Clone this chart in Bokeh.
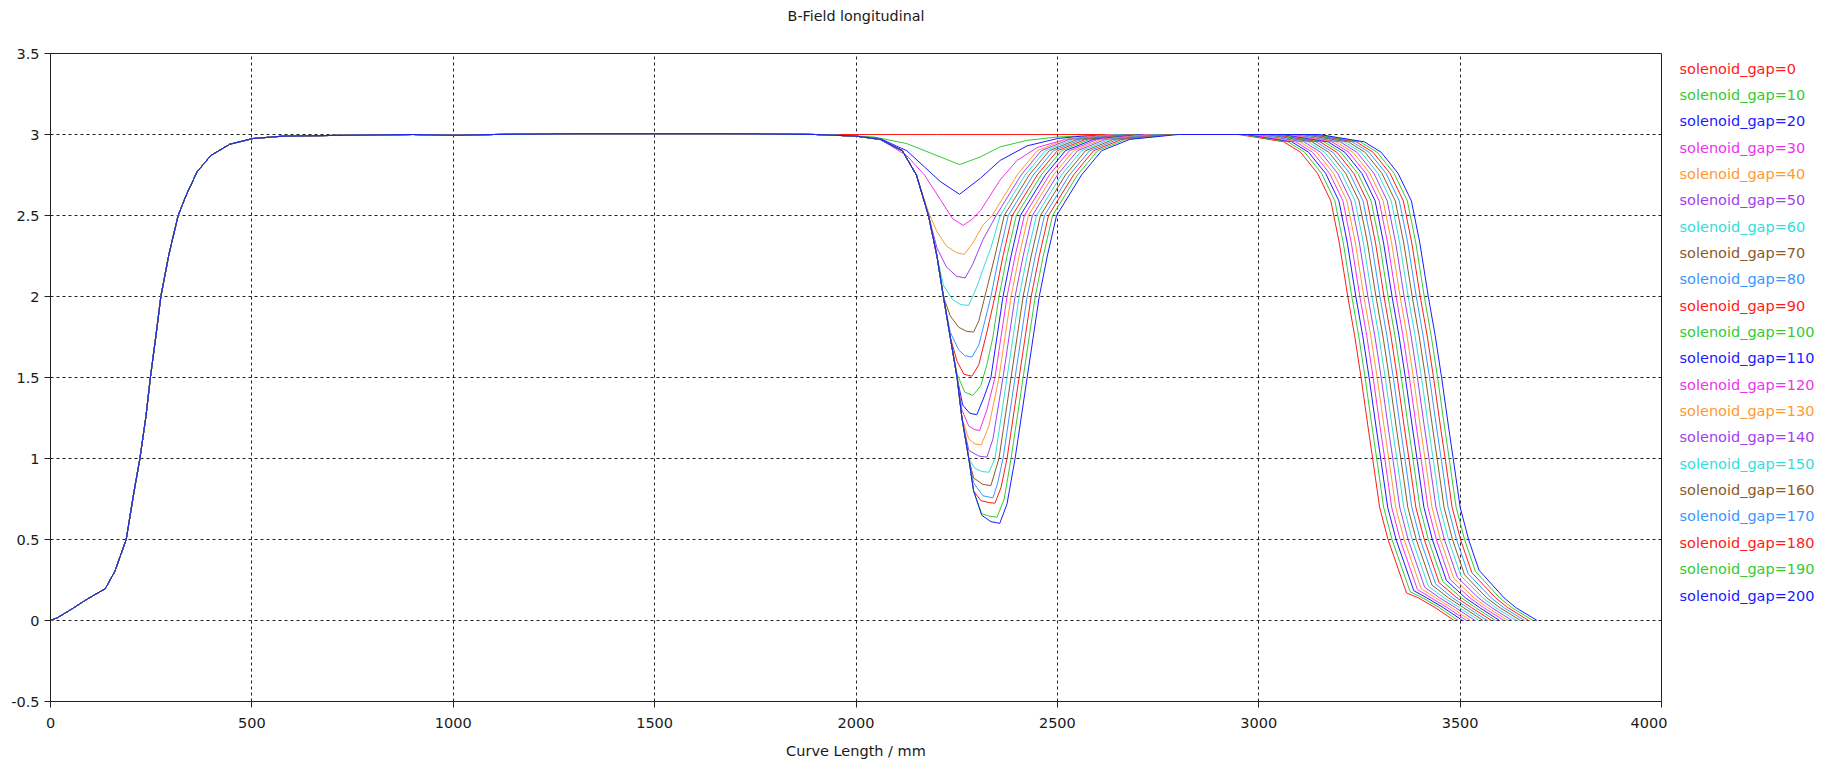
from bokeh.plotting import figure
from bokeh.layouts import row, column
from bokeh.models import SingleIntervalTicker, CustomJSTickFormatter, Range1d, ColumnDataSource
from bokeh.core.properties import value
from bokeh.embed import file_html
from bokeh.resources import INLINE

# ---------------- data ----------------
gaps = [0, 10, 20, 30, 40, 50, 60, 70, 80, 90, 100, 110, 120, 130, 140, 150, 160, 170, 180, 190, 200]

palette = ["#ff1a1a", "#33cc33", "#1a1aff", "#ee33ee", "#ff9933",
           "#a040f0", "#33dddd", "#8b5a2b", "#3a96ff"]

x_min, x_max = 0, 4000
y_min, y_max = -0.5, 3.5
x_ticks_step = 500
y_ticks_step = 0.5

# shared field rise of the first solenoid (all curves overlap here)
rise_x = [0, 17, 46, 93, 136, 160, 188, 207, 222, 237, 248, 264, 274, 294, 317, 336,
          364, 398, 445, 502, 578, 730, 900, 1000, 1100, 1300, 1500, 1700, 1900]
rise_y = [0, 0.017, 0.06, 0.135, 0.196, 0.305, 0.50, 0.79, 1.0, 1.26, 1.5, 1.8, 2.0,
          2.26, 2.5, 2.62, 2.77, 2.87, 2.94, 2.975, 2.99, 2.995, 3.0, 2.995, 3.0,
          3.005, 3.005, 3.005, 3.0]

# remaining part of each curve (gap dip + end fall), (curve length, B)
tail_g000 = [(2000, 3.0), (2200, 3.0), (2400, 3.0), (2600, 3.0),
             (2950, 3.0), (3062, 2.955), (3104, 2.89), (3146, 2.76), (3179, 2.59), (3200, 2.33),
             (3221, 2.0), (3238, 1.76), (3254, 1.5), (3271, 1.2), (3284, 0.98), (3300, 0.70),
             (3321, 0.5), (3367, 0.17), (3396, 0.14), (3438, 0.08), (3485, 0.0)]
tail_g010 = [(2000, 2.99), (2044, 2.985), (2126, 2.944), (2209, 2.862), (2257, 2.814), (2309, 2.862),
             (2358, 2.924), (2425, 2.964), (2500, 2.985), (2560, 2.99), (2700, 3.0),
             (2960, 3.0), (3072, 2.955), (3114, 2.89), (3156, 2.76), (3189, 2.59), (3210, 2.33),
             (3231, 2.0), (3248, 1.76), (3264, 1.5), (3281, 1.2), (3294, 0.98), (3310, 0.70),
             (3331, 0.5), (3376, 0.177), (3407, 0.14), (3448, 0.08), (3495, 0.0)]
tail_g020 = [(2000, 2.99), (2060, 2.975), (2126, 2.90), (2170, 2.80), (2209, 2.71), (2257, 2.631),
             (2309, 2.73), (2358, 2.84), (2425, 2.93), (2500, 2.975), (2560, 2.99), (2700, 3.0),
             (2970, 3.0), (3082, 2.955), (3124, 2.89), (3166, 2.76), (3199, 2.59), (3220, 2.33),
             (3241, 2.0), (3258, 1.76), (3274, 1.5), (3291, 1.2), (3304, 0.98), (3320, 0.70),
             (3341, 0.5), (3385, 0.184), (3417, 0.14), (3458, 0.08), (3506, 0.0)]
tail_g030 = [(2000, 2.99), (2060, 2.97), (2126, 2.87), (2170, 2.75), (2209, 2.6), (2240, 2.48),
             (2266, 2.439), (2290, 2.48), (2309, 2.53), (2358, 2.72), (2400, 2.84), (2450, 2.92),
             (2520, 2.97), (2630, 3.0),
             (2980, 3.0), (3092, 2.955), (3134, 2.89), (3176, 2.76), (3209, 2.59), (3230, 2.33),
             (3251, 2.0), (3268, 1.76), (3284, 1.5), (3301, 1.2), (3314, 0.98), (3330, 0.70),
             (3351, 0.5), (3394, 0.191), (3428, 0.14), (3468, 0.08), (3516, 0.0)]
tail_g040 = [(2000, 2.99), (2060, 2.97), (2115, 2.9), (2150, 2.75), (2180, 2.52), (2201, 2.4),
             (2225, 2.31), (2250, 2.27), (2269, 2.26), (2290, 2.33), (2315, 2.44), (2338, 2.5),
             (2400, 2.75), (2450, 2.9), (2520, 2.97), (2640, 3.0),
             (2990, 3.0), (3102, 2.955), (3144, 2.89), (3186, 2.76), (3219, 2.59), (3240, 2.33),
             (3261, 2.0), (3278, 1.76), (3294, 1.5), (3311, 1.2), (3324, 0.98), (3340, 0.70),
             (3361, 0.5), (3403, 0.198), (3439, 0.14), (3478, 0.08), (3526, 0.0)]
tail_g050 = [(2000, 2.99), (2060, 2.97), (2115, 2.9), (2150, 2.75), (2180, 2.5), (2201, 2.3),
             (2225, 2.18), (2250, 2.125), (2271, 2.114), (2290, 2.2), (2315, 2.35), (2348, 2.5),
             (2410, 2.75), (2460, 2.9), (2530, 2.97), (2650, 3.0),
             (3000, 3.0), (3112, 2.955), (3154, 2.89), (3196, 2.76), (3229, 2.59), (3250, 2.33),
             (3271, 2.0), (3288, 1.76), (3304, 1.5), (3321, 1.2), (3334, 0.98), (3350, 0.70),
             (3371, 0.5), (3412, 0.205), (3449, 0.14), (3488, 0.08), (3537, 0.0)]
tail_g060 = [(2000, 2.99), (2060, 2.97), (2115, 2.9), (2150, 2.75), (2180, 2.5), (2201, 2.25),
             (2217, 2.07), (2240, 1.98), (2260, 1.95), (2280, 1.945), (2300, 2.06), (2320, 2.2),
             (2335, 2.3), (2358, 2.5), (2420, 2.75), (2470, 2.9), (2540, 2.97), (2660, 3.0),
             (3010, 3.0), (3122, 2.955), (3164, 2.89), (3206, 2.76), (3239, 2.59), (3260, 2.33),
             (3281, 2.0), (3298, 1.76), (3314, 1.5), (3331, 1.2), (3344, 0.98), (3360, 0.70),
             (3381, 0.5), (3421, 0.212), (3460, 0.14), (3498, 0.08), (3547, 0.0)]
tail_g070 = [(2000, 2.99), (2060, 2.97), (2115, 2.9), (2150, 2.75), (2180, 2.5), (2201, 2.25),
             (2217, 2.0), (2234, 1.88), (2255, 1.81), (2275, 1.785), (2292, 1.78), (2305, 1.85),
             (2325, 2.05), (2345, 2.25), (2368, 2.5), (2430, 2.75), (2480, 2.9), (2550, 2.97),
             (2670, 3.0),
             (3020, 3.0), (3132, 2.955), (3174, 2.89), (3216, 2.76), (3249, 2.59), (3270, 2.33),
             (3291, 2.0), (3308, 1.76), (3324, 1.5), (3341, 1.2), (3354, 0.98), (3370, 0.70),
             (3391, 0.5), (3430, 0.219), (3471, 0.14), (3508, 0.08), (3557, 0.0)]
tail_g080 = [(2000, 2.99), (2060, 2.97), (2115, 2.9), (2150, 2.75), (2180, 2.5), (2201, 2.25),
             (2217, 2.0), (2234, 1.78), (2255, 1.67), (2270, 1.635), (2288, 1.626), (2305, 1.7),
             (2320, 1.85), (2335, 2.0), (2355, 2.25), (2378, 2.5), (2440, 2.75), (2490, 2.9),
             (2560, 2.97), (2680, 3.0),
             (3030, 3.0), (3142, 2.955), (3184, 2.89), (3226, 2.76), (3259, 2.59), (3280, 2.33),
             (3301, 2.0), (3318, 1.76), (3334, 1.5), (3351, 1.2), (3364, 0.98), (3380, 0.70),
             (3401, 0.5), (3439, 0.226), (3481, 0.14), (3518, 0.08), (3567, 0.0)]
tail_g090 = [(2000, 2.99), (2060, 2.97), (2115, 2.9), (2150, 2.75), (2180, 2.5), (2201, 2.25),
             (2217, 2.0), (2234, 1.75), (2251, 1.6), (2268, 1.52), (2288, 1.508), (2305, 1.58),
             (2325, 1.78), (2345, 2.0), (2365, 2.25), (2388, 2.5), (2450, 2.75), (2500, 2.9),
             (2570, 2.97), (2690, 3.0),
             (3040, 3.0), (3152, 2.955), (3194, 2.89), (3236, 2.76), (3269, 2.59), (3290, 2.33),
             (3311, 2.0), (3328, 1.76), (3344, 1.5), (3361, 1.2), (3374, 0.98), (3390, 0.70),
             (3411, 0.5), (3448, 0.233), (3492, 0.14), (3528, 0.08), (3578, 0.0)]
tail_g100 = [(2000, 2.99), (2060, 2.97), (2115, 2.9), (2150, 2.75), (2180, 2.5), (2201, 2.25),
             (2217, 2.0), (2234, 1.75), (2251, 1.52), (2270, 1.41), (2290, 1.389), (2310, 1.45),
             (2325, 1.58), (2340, 1.75), (2355, 2.0), (2375, 2.25), (2398, 2.5), (2460, 2.75),
             (2510, 2.9), (2580, 2.97), (2700, 3.0),
             (3050, 3.0), (3162, 2.955), (3204, 2.89), (3246, 2.76), (3279, 2.59), (3300, 2.33),
             (3321, 2.0), (3338, 1.76), (3354, 1.5), (3371, 1.2), (3384, 0.98), (3400, 0.70),
             (3421, 0.5), (3457, 0.24), (3503, 0.14), (3538, 0.08), (3588, 0.0)]
tail_g110 = [(2000, 2.99), (2060, 2.97), (2115, 2.9), (2150, 2.75), (2180, 2.5), (2201, 2.25),
             (2217, 2.0), (2234, 1.75), (2251, 1.5), (2265, 1.33), (2282, 1.28), (2300, 1.27),
             (2318, 1.38), (2335, 1.5), (2365, 2.0), (2385, 2.25), (2408, 2.5), (2470, 2.75),
             (2520, 2.9), (2590, 2.97), (2710, 3.0),
             (3060, 3.0), (3172, 2.955), (3214, 2.89), (3256, 2.76), (3289, 2.59), (3310, 2.33),
             (3331, 2.0), (3348, 1.76), (3364, 1.5), (3381, 1.2), (3394, 0.98), (3410, 0.70),
             (3431, 0.5), (3466, 0.247), (3513, 0.14), (3548, 0.08), (3598, 0.0)]
tail_g120 = [(2000, 2.99), (2060, 2.97), (2115, 2.9), (2150, 2.75), (2180, 2.5), (2201, 2.25),
             (2217, 2.0), (2234, 1.75), (2251, 1.5), (2263, 1.3), (2280, 1.2), (2295, 1.178),
             (2307, 1.173), (2325, 1.3), (2345, 1.5), (2375, 2.0), (2395, 2.25), (2418, 2.5),
             (2480, 2.75), (2530, 2.9), (2600, 2.97), (2720, 3.0),
             (3070, 3.0), (3182, 2.955), (3224, 2.89), (3266, 2.76), (3299, 2.59), (3320, 2.33),
             (3341, 2.0), (3358, 1.76), (3374, 1.5), (3391, 1.2), (3404, 0.98), (3420, 0.70),
             (3441, 0.5), (3475, 0.254), (3524, 0.14), (3558, 0.08), (3609, 0.0)]
tail_g130 = [(2000, 2.99), (2060, 2.97), (2115, 2.9), (2150, 2.75), (2180, 2.5), (2201, 2.25),
             (2217, 2.0), (2234, 1.75), (2251, 1.5), (2263, 1.25), (2280, 1.12), (2295, 1.09),
             (2311, 1.084), (2330, 1.2), (2355, 1.5), (2385, 2.0), (2405, 2.25), (2428, 2.5),
             (2490, 2.75), (2540, 2.9), (2610, 2.97), (2730, 3.0),
             (3080, 3.0), (3192, 2.955), (3234, 2.89), (3276, 2.76), (3309, 2.59), (3330, 2.33),
             (3351, 2.0), (3368, 1.76), (3384, 1.5), (3401, 1.2), (3414, 0.98), (3430, 0.70),
             (3451, 0.5), (3484, 0.261), (3534, 0.14), (3568, 0.08), (3619, 0.0)]
tail_g140 = [(2000, 2.99), (2060, 2.97), (2115, 2.9), (2150, 2.75), (2180, 2.5), (2201, 2.25),
             (2217, 2.0), (2234, 1.75), (2251, 1.5), (2263, 1.25), (2280, 1.05), (2305, 1.015),
             (2325, 1.008), (2340, 1.12), (2365, 1.5), (2395, 2.0), (2415, 2.25), (2438, 2.5),
             (2500, 2.75), (2550, 2.9), (2620, 2.97), (2740, 3.0),
             (3090, 3.0), (3202, 2.955), (3244, 2.89), (3286, 2.76), (3319, 2.59), (3340, 2.33),
             (3361, 2.0), (3378, 1.76), (3394, 1.5), (3411, 1.2), (3424, 0.98), (3440, 0.70),
             (3461, 0.5), (3493, 0.268), (3545, 0.14), (3578, 0.08), (3629, 0.0)]
tail_g150 = [(2000, 2.99), (2060, 2.97), (2115, 2.9), (2150, 2.75), (2180, 2.5), (2201, 2.25),
             (2217, 2.0), (2234, 1.75), (2251, 1.5), (2263, 1.25), (2280, 1.0), (2295, 0.94),
             (2312, 0.92), (2330, 0.915), (2345, 1.0), (2375, 1.5), (2405, 2.0), (2425, 2.25),
             (2448, 2.5), (2510, 2.75), (2560, 2.9), (2630, 2.97), (2750, 3.0),
             (3100, 3.0), (3212, 2.955), (3254, 2.89), (3296, 2.76), (3329, 2.59), (3350, 2.33),
             (3371, 2.0), (3388, 1.76), (3404, 1.5), (3421, 1.2), (3434, 0.98), (3450, 0.70),
             (3471, 0.5), (3502, 0.275), (3556, 0.14), (3588, 0.08), (3640, 0.0)]
tail_g160 = [(2000, 2.99), (2060, 2.97), (2115, 2.9), (2150, 2.75), (2180, 2.5), (2201, 2.25),
             (2217, 2.0), (2234, 1.75), (2251, 1.5), (2263, 1.25), (2280, 1.0), (2292, 0.88),
             (2315, 0.84), (2335, 0.833), (2355, 1.0), (2385, 1.5), (2415, 2.0), (2435, 2.25),
             (2458, 2.5), (2520, 2.75), (2570, 2.9), (2640, 2.97), (2760, 3.0),
             (3110, 3.0), (3222, 2.955), (3264, 2.89), (3306, 2.76), (3339, 2.59), (3360, 2.33),
             (3381, 2.0), (3398, 1.76), (3414, 1.5), (3431, 1.2), (3444, 0.98), (3460, 0.70),
             (3481, 0.5), (3511, 0.282), (3566, 0.14), (3598, 0.08), (3650, 0.0)]
tail_g170 = [(2000, 2.99), (2060, 2.97), (2115, 2.9), (2150, 2.75), (2180, 2.5), (2201, 2.25),
             (2217, 2.0), (2234, 1.75), (2251, 1.5), (2263, 1.25), (2280, 1.0), (2292, 0.85),
             (2315, 0.77), (2340, 0.757), (2352, 0.85), (2365, 1.0), (2395, 1.5), (2425, 2.0),
             (2445, 2.25), (2468, 2.5), (2530, 2.75), (2580, 2.9), (2650, 2.97), (2770, 3.0),
             (3120, 3.0), (3232, 2.955), (3274, 2.89), (3316, 2.76), (3349, 2.59), (3370, 2.33),
             (3391, 2.0), (3408, 1.76), (3424, 1.5), (3441, 1.2), (3454, 0.98), (3470, 0.70),
             (3491, 0.5), (3520, 0.289), (3577, 0.14), (3608, 0.08), (3660, 0.0)]
tail_g180 = [(2000, 2.99), (2060, 2.97), (2115, 2.9), (2150, 2.75), (2180, 2.5), (2201, 2.25),
             (2217, 2.0), (2234, 1.75), (2251, 1.5), (2263, 1.25), (2280, 1.0), (2292, 0.8),
             (2310, 0.74), (2330, 0.728), (2345, 0.724), (2360, 0.82), (2375, 1.0), (2405, 1.5),
             (2435, 2.0), (2455, 2.25), (2478, 2.5), (2540, 2.75), (2590, 2.9), (2660, 2.97),
             (2780, 3.0),
             (3130, 3.0), (3242, 2.955), (3284, 2.89), (3326, 2.76), (3359, 2.59), (3380, 2.33),
             (3401, 2.0), (3418, 1.76), (3434, 1.5), (3451, 1.2), (3464, 0.98), (3480, 0.70),
             (3501, 0.5), (3529, 0.296), (3588, 0.14), (3618, 0.08), (3670, 0.0)]
tail_g190 = [(2000, 2.99), (2060, 2.97), (2115, 2.9), (2150, 2.75), (2180, 2.5), (2201, 2.25),
             (2217, 2.0), (2234, 1.75), (2251, 1.5), (2263, 1.25), (2280, 1.0), (2292, 0.8),
             (2312, 0.66), (2330, 0.645), (2350, 0.637), (2368, 0.75), (2385, 1.0), (2415, 1.5),
             (2445, 2.0), (2465, 2.25), (2488, 2.5), (2550, 2.75), (2600, 2.9), (2670, 2.97),
             (2790, 3.0),
             (3140, 3.0), (3252, 2.955), (3294, 2.89), (3336, 2.76), (3369, 2.59), (3390, 2.33),
             (3411, 2.0), (3428, 1.76), (3444, 1.5), (3461, 1.2), (3474, 0.98), (3490, 0.70),
             (3511, 0.5), (3538, 0.303), (3598, 0.14), (3628, 0.08), (3681, 0.0)]
tail_g200 = [(2000, 2.99), (2060, 2.97), (2115, 2.9), (2150, 2.75), (2180, 2.5), (2201, 2.25),
             (2217, 2.0), (2234, 1.75), (2251, 1.5), (2263, 1.25), (2280, 1.0), (2292, 0.8),
             (2312, 0.65), (2335, 0.61), (2357, 0.60), (2375, 0.72), (2395, 1.0), (2425, 1.5),
             (2455, 2.0), (2475, 2.25), (2498, 2.5), (2560, 2.75), (2610, 2.9), (2680, 2.97),
             (2800, 3.0),
             (3150, 3.0), (3262, 2.955), (3304, 2.89), (3346, 2.76), (3379, 2.59), (3400, 2.33),
             (3421, 2.0), (3438, 1.76), (3454, 1.5), (3471, 1.2), (3484, 0.98), (3500, 0.70),
             (3521, 0.5), (3547, 0.31), (3609, 0.14), (3638, 0.08), (3691, 0.0)]

tails = [tail_g000, tail_g010, tail_g020, tail_g030, tail_g040, tail_g050, tail_g060,
         tail_g070, tail_g080, tail_g090, tail_g100, tail_g110, tail_g120, tail_g130,
         tail_g140, tail_g150, tail_g160, tail_g170, tail_g180, tail_g190, tail_g200]

title_text = "B-Field longitudinal"
x_label = "Curve Length / mm"
FONT = "DejaVu Sans"
H = 761
TITLE_H = 30
W_MAIN = 1667
W_LEG = 157
FRAME_TOP = 53
FRAME_BOTTOM = 701
BORDER_L, BORDER_R = 50, 6


def bare(fig):
    fig.outline_line_color = None
    fig.grid.visible = False
    fig.background_fill_color = "white"
    fig.border_fill_color = "white"


# ---------------- title strip (same horizontal frame as the main plot) ----------------
tfig = figure(width=W_MAIN, height=TITLE_H, output_backend="svg", toolbar_location=None,
              x_range=Range1d(x_min, x_max), y_range=Range1d(TITLE_H, 0),
              x_axis_location=None, y_axis_location=None,
              min_border_left=BORDER_L, min_border_right=BORDER_R,
              min_border_top=0, min_border_bottom=0)
bare(tfig)
tfig.text(x=[(x_min + x_max) / 2], y=[15], text=[title_text], text_color="#1a1a1a",
          text_font=value(FONT), text_font_size="14.3px", text_align="center",
          text_baseline="middle")

# ---------------- main figure ----------------
p = figure(width=W_MAIN, height=H - TITLE_H, output_backend="svg", toolbar_location=None,
           x_range=Range1d(x_min, x_max), y_range=Range1d(y_min, y_max),
           min_border_left=BORDER_L, min_border_right=BORDER_R,
           min_border_top=FRAME_TOP - TITLE_H, min_border_bottom=H - FRAME_BOTTOM)
p.background_fill_color = "white"
p.border_fill_color = "white"
p.outline_line_color = "#222222"
p.outline_line_width = 1

for i, (g, tail) in enumerate(zip(gaps, tails)):
    xs = rise_x + [pt[0] for pt in tail]
    ys = rise_y + [pt[1] for pt in tail]
    p.line(xs, ys, line_color=palette[i % len(palette)], line_width=1)

p.xaxis.ticker = SingleIntervalTicker(interval=x_ticks_step)
p.yaxis.ticker = SingleIntervalTicker(interval=y_ticks_step)
fmt = CustomJSTickFormatter(code="return (Math.round(tick*1000)/1000).toString();")
p.xaxis.formatter = fmt
p.yaxis.formatter = fmt

for ax in (p.xaxis, p.yaxis):
    ax.axis_line_color = "#222222"
    ax.major_tick_line_color = "#222222"
    ax.major_tick_out = 6
    ax.major_tick_in = 0
    ax.minor_tick_line_color = None
    ax.major_label_text_font = FONT
    ax.major_label_text_font_size = "14.5px"
    ax.major_label_text_color = "#1a1a1a"
    ax.axis_label_text_font = FONT
    ax.axis_label_text_font_size = "14.5px"
    ax.axis_label_text_font_style = "normal"
    ax.axis_label_text_color = "#1a1a1a"

p.xaxis.major_label_standoff = 10
p.yaxis.major_label_standoff = 5
p.xaxis.axis_label = x_label
p.xaxis.axis_label_standoff = 12

for gr in (p.xgrid, p.ygrid):
    gr.grid_line_color = "#222222"
    gr.grid_line_dash = "3 3"
    gr.grid_line_width = 1
p.xgrid.ticker = p.xaxis.ticker
p.ygrid.ticker = p.yaxis.ticker

# ---------------- legend panel: coloured text only ----------------
# the row aligns this panel's frame with the main frame, so its y range is in page pixels
leg = figure(width=W_LEG, height=H - TITLE_H, output_backend="svg", toolbar_location=None,
             x_range=Range1d(0, W_LEG), y_range=Range1d(FRAME_BOTTOM, FRAME_TOP),
             x_axis_location=None, y_axis_location=None,
             min_border_left=0, min_border_right=0, min_border_top=FRAME_TOP - TITLE_H,
             min_border_bottom=H - FRAME_BOTTOM)
bare(leg)
leg_src = ColumnDataSource(dict(
    x=[12] * len(gaps),
    y=[68 + 26.35 * i for i in range(len(gaps))],
    text=[f"solenoid_gap={g}" for g in gaps],
    color=[palette[i % len(palette)] for i in range(len(gaps))],
))
leg.text(x="x", y="y", text="text", text_color="color", source=leg_src,
         text_font=value(FONT), text_font_size="14.5px", text_baseline="middle",
         text_align="left")

layout = column(tfig, row(p, leg, spacing=0), spacing=0)
open("out.html", "w").write(file_html(layout, INLINE))
